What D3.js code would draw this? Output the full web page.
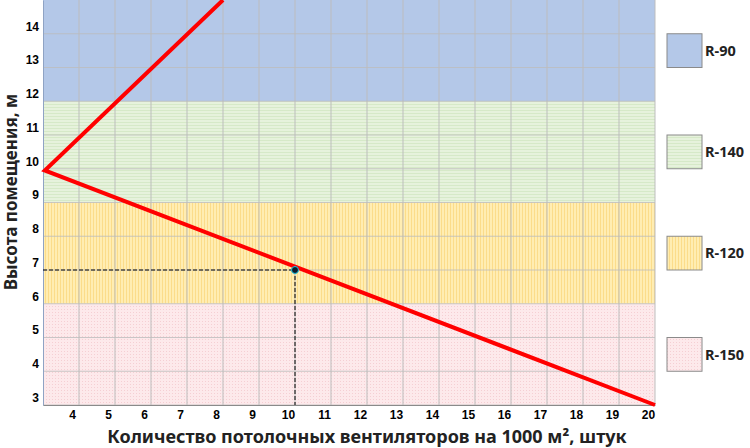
<!DOCTYPE html>
<html>
<head>
<meta charset="utf-8">
<script src="https://cdn.jsdelivr.net/npm/d3@7"></script>
<style>
  body { margin: 0; background: #fff; }
  .tick text { font-family: "Liberation Sans", Arial, sans-serif; font-weight: bold; font-size: 12px; fill: #000; }
  .title { font-family: "Noto Sans", "Open Sans", sans-serif; font-weight: bold; fill: #222; }
</style>
</head>
<body>
<div id="chart"></div>
<script>
// zones of fan type by room height
var zones = [
  {name: "R-90",  from: 12, to: 15, fill: "#b4c8e8", pat: "none"},
  {name: "R-140", from: 9,  to: 12, fill: "#e4f1da", pat: "h"},
  {name: "R-120", from: 6,  to: 9,  fill: "#ffe8a6", pat: "v"},
  {name: "R-150", from: 3,  to: 6,  fill: "#fde6e8", pat: "dot"}
];
// legend order (top to bottom) and the height the box's top sits on
var legendOrder = ["R-90", "R-140", "R-120", "R-150"];
var legendAt = [14, 11, 8, 5];

// red broken line
var lineX = [8, 3.05, 20];
var lineY = [15, 9.95, 3];

// marked example point
var pointX = 10, pointY = 7;

var xTicks = [4,5,6,7,8,9,10,11,12,13,14,15,16,17,18,19,20];
var yTicks = [3,4,5,6,7,8,9,10,11,12,13,14];

var W = 750, H = 448;
var margin = {top: 0, right: 95, bottom: 43, left: 43};
var width = W - margin.left - margin.right,
    height = H - margin.top - margin.bottom;

var x = d3.scaleLinear().domain([3, 20]).range([0, width]);
var y = d3.scaleLinear().domain([3, 15]).range([height, 0]);

var svg = d3.select("#chart").append("svg")
    .attr("width", W).attr("height", H);

// patterns for the zones
var defs = svg.append("defs");
var ph = defs.append("pattern").attr("id", "p-h").attr("patternUnits", "userSpaceOnUse")
    .attr("width", 4).attr("height", 3);
ph.append("rect").attr("width", 4).attr("height", 3).attr("fill", "#e6f2dc");
ph.append("rect").attr("y", 2).attr("width", 4).attr("height", 1).attr("fill", "#d6e9c8");
var pv = defs.append("pattern").attr("id", "p-v").attr("patternUnits", "userSpaceOnUse")
    .attr("width", 3).attr("height", 4);
pv.append("rect").attr("width", 3).attr("height", 4).attr("fill", "#ffedb2");
pv.append("rect").attr("x", 2).attr("width", 1).attr("height", 4).attr("fill", "#fbdc8a");
var pd = defs.append("pattern").attr("id", "p-dot").attr("patternUnits", "userSpaceOnUse")
    .attr("width", 3).attr("height", 3);
pd.append("rect").attr("width", 3).attr("height", 3).attr("fill", "#fde9eb");
pd.append("rect").attr("width", 1).attr("height", 1).attr("fill", "#f5cfd3");

function zoneFill(z) { return z.pat == "none" ? z.fill : "url(#p-" + z.pat + ")"; }

var g = svg.append("g")
    .attr("transform", "translate(" + margin.left + "," + margin.top + ")");

g.selectAll(".zone").data(zones).enter().append("rect")
    .attr("class", "zone")
    .attr("x", 0).attr("width", width)
    .attr("y", function(d) { return y(d.to); })
    .attr("height", function(d) { return y(d.from) - y(d.to); })
    .attr("fill", zoneFill);

// grid
g.append("g").selectAll("line").data(xTicks).enter().append("line")
    .attr("x1", function(d) { return x(d); }).attr("x2", function(d) { return x(d); })
    .attr("y1", 0).attr("y2", height)
    .attr("stroke", "#bdbdbd").attr("stroke-width", 1.2).attr("opacity", 0.8);
g.append("g").selectAll("line").data(yTicks).enter().append("line")
    .attr("x1", 0).attr("x2", width)
    .attr("y1", function(d) { return y(d); }).attr("y2", function(d) { return y(d); })
    .attr("stroke", "#bdbdbd").attr("stroke-width", 1.2).attr("opacity", 0.8);

// axes
var xAxis = g.append("g")
    .attr("transform", "translate(0," + height + ")")
    .call(d3.axisBottom(x).tickValues(xTicks).tickSize(0).tickPadding(5));
xAxis.selectAll("text").attr("dx", -7);
var yAxis = g.append("g")
    .call(d3.axisLeft(y).tickValues(yTicks).tickSize(0).tickPadding(4));
yAxis.selectAll("text").attr("dy", "-0.3em");
xAxis.select(".domain").attr("stroke", "#8a8a8a");
yAxis.select(".domain").attr("stroke", "#8fa3c4");

// guide lines to the point
g.append("path")
    .attr("d", "M0," + y(pointY) + "H" + x(pointX) + "V" + height)
    .attr("fill", "none").attr("stroke", "#000").attr("stroke-width", 1)
    .attr("stroke-dasharray", "4,2");

// red line
var pts = lineX.map(function(v, i) { return [v, lineY[i]]; });
g.append("path")
    .attr("d", d3.line().x(function(d) { return x(d[0]); }).y(function(d) { return y(d[1]); })(pts))
    .attr("fill", "none").attr("stroke", "#f00").attr("stroke-width", 4)
    .attr("stroke-linejoin", "miter");

g.append("circle")
    .attr("cx", x(pointX)).attr("cy", y(pointY)).attr("r", 3.5)
    .attr("fill", "#0a1a2a").attr("stroke", "#1ec8e8").attr("stroke-width", 1);

// legend
var lg = svg.append("g").attr("transform", "translate(" + (margin.left + width + 12) + "," + margin.top + ")");
legendOrder.forEach(function(name, i) {
  var z = zones.filter(function(d) { return d.name == name; })[0];
  var top = y(legendAt[i]);
  lg.append("rect").attr("x", 0).attr("y", top).attr("width", 35).attr("height", y(0) - y(1))
      .attr("fill", zoneFill(z)).attr("stroke", "#8a8a8a").attr("stroke-width", 1);
  lg.append("text").attr("class", "title").attr("x", 38).attr("y", top + 17)
      .attr("dy", "0.35em").attr("font-size", "14.5px").text(name);
});

// axis titles
svg.append("text").attr("class", "title")
    .attr("x", margin.left + 324).attr("y", 443)
    .attr("text-anchor", "middle").attr("font-size", "18px")
    .text("Количество потолочных вентиляторов на 1000 м², штук");
svg.append("text").attr("class", "title")
    .attr("transform", "translate(17,192) rotate(-90)")
    .attr("text-anchor", "middle").attr("font-size", "17px")
    .text("Высота помещения, м");
</script>
</body>
</html>
